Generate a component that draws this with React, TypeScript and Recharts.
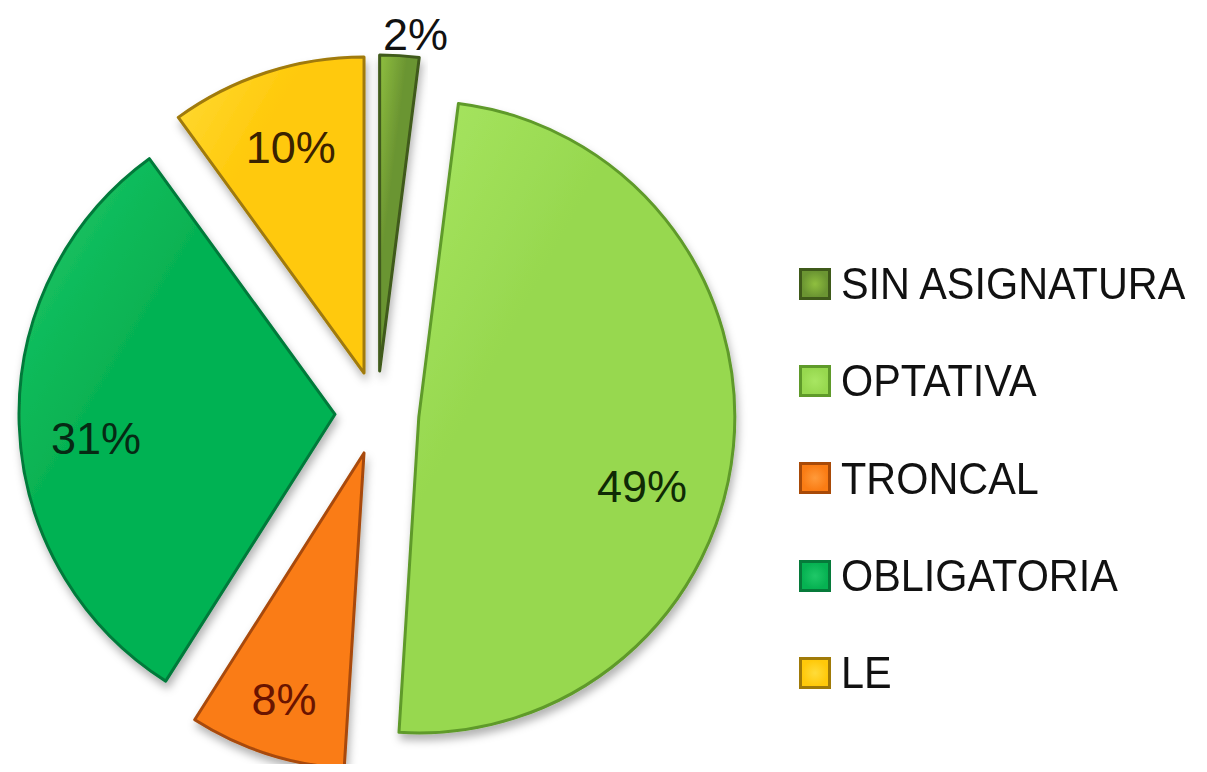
import React from 'react';
import { PieChart, Pie, Cell, Legend, Sector } from 'recharts';

// ---- data ----
const categories = ['SIN ASIGNATURA', 'OPTATIVA', 'TRONCAL', 'OBLIGATORIA', 'LE'];
const shares = [2, 49, 8, 31, 10];
const labelTexts = ['2%', '49%', '8%', '31%', '10%'];

const data = categories.map((name, i) => ({ name, value: shares[i] }));

// ---- styles ----
const FILLS = ['#6b9532', '#97d84f', '#fa7c14', '#06b252', '#ffc90a'];
const LIGHTS = ['#8fbf3f', '#a8e662', '#ff9a3a', '#1fc868', '#ffdc3a'];
const EDGES = ['#3f5a1a', '#5f9a2a', '#a84a08', '#067a3a', '#a07a08'];
const TEXT_COLORS = ['#111111', '#0f2a05', '#6a1400', '#062a14', '#3a2200'];
const LABEL_TWEAKS: Record<string, { angle?: number; r?: number }> = {
  'SIN ASIGNATURA': { angle: -2.5, r: 1.07 },
  OPTATIVA: { angle: -12, r: 0.74 },
  TRONCAL: { r: 0.82 },
  OBLIGATORIA: { angle: 4, r: 0.76 },
  LE: { r: 0.75 },
};

const EXPLODE = 42;
const RAD = Math.PI / 180;
const FONT = '"Liberation Sans", Arial, sans-serif';

const renderSlice = (props: any) => {
  const { cx, cy, outerRadius, startAngle, endAngle, index } = props;
  const mid = (startAngle + endAngle) / 2;
  const ox = cx + EXPLODE * Math.cos(-mid * RAD);
  const oy = cy + EXPLODE * Math.sin(-mid * RAD);
  const tweak = LABEL_TWEAKS[categories[index]] || {};
  const la = mid + (tweak.angle || 0);
  const lr = outerRadius * (tweak.r ?? 0.75);
  const lx = ox + lr * Math.cos(-la * RAD);
  const ly = oy + lr * Math.sin(-la * RAD);
  return (
    <g>
      <Sector
        cx={ox}
        cy={oy}
        innerRadius={0}
        outerRadius={outerRadius}
        startAngle={startAngle}
        endAngle={endAngle}
        fill={`url(#slice-grad-${index})`}
        stroke={EDGES[index]}
        strokeWidth={3}
        strokeLinejoin="round"
        filter="url(#slice-shadow)"
      />
      <text
        x={lx}
        y={ly}
        textAnchor="middle"
        dominantBaseline="central"
        fontFamily={FONT}
        fontSize={45}
        fill={TEXT_COLORS[index]}
      >
        {labelTexts[index]}
      </text>
    </g>
  );
};

const renderLegend = () => (
  <div style={{ fontFamily: FONT }}>
    {categories.map((c, i) => (
      <div key={c} style={{ height: 97.3, display: 'flex', alignItems: 'center' }}>
        <div
          style={{
            width: 32,
            height: 32,
            background: `radial-gradient(circle, ${LIGHTS[i]} 0%, ${FILLS[i]} 70%)`,
            border: `3px solid ${EDGES[i]}`,
            boxSizing: 'border-box',
            flex: '0 0 auto',
          }}
        />
        <span
          style={{
            marginLeft: 10,
            fontSize: 45,
            lineHeight: 1,
            color: '#111',
            display: 'inline-block',
            transform: 'scaleX(0.92)',
            transformOrigin: 'left center',
            whiteSpace: 'nowrap',
          }}
        >
          {c}
        </span>
      </div>
    ))}
  </div>
);

export default function App() {
  return (
    <PieChart width={1191} height={756} margin={{ top: 0, right: 0, bottom: 0, left: 0 }}>
      <defs>
        <filter id="slice-shadow" x="-20%" y="-20%" width="140%" height="140%">
          <feDropShadow dx="2" dy="6" stdDeviation="4" floodColor="#000" floodOpacity="0.3" />
        </filter>
        {FILLS.map((f, i) => (
          <linearGradient key={i} id={`slice-grad-${i}`} x1="0" y1="0" x2="1" y2="1">
            <stop offset="0%" stopColor={LIGHTS[i]} />
            <stop offset="35%" stopColor={f} />
            <stop offset="100%" stopColor={f} />
          </linearGradient>
        ))}
      </defs>
      <Pie
        data={data}
        dataKey="value"
        nameKey="name"
        cx={369}
        cy={405}
        outerRadius={316}
        startAngle={90}
        endAngle={-270}
        label={renderSlice}
        labelLine={false}
        isAnimationActive={false}
        stroke="none"
      >
        {data.map((d, i) => (
          <Cell key={d.name} fill="transparent" />
        ))}
      </Pie>
      <Legend
        layout="vertical"
        align="right"
        verticalAlign="middle"
        content={renderLegend}
        wrapperStyle={{ left: 791, top: 227, width: 400 }}
      />
    </PieChart>
  );
}
